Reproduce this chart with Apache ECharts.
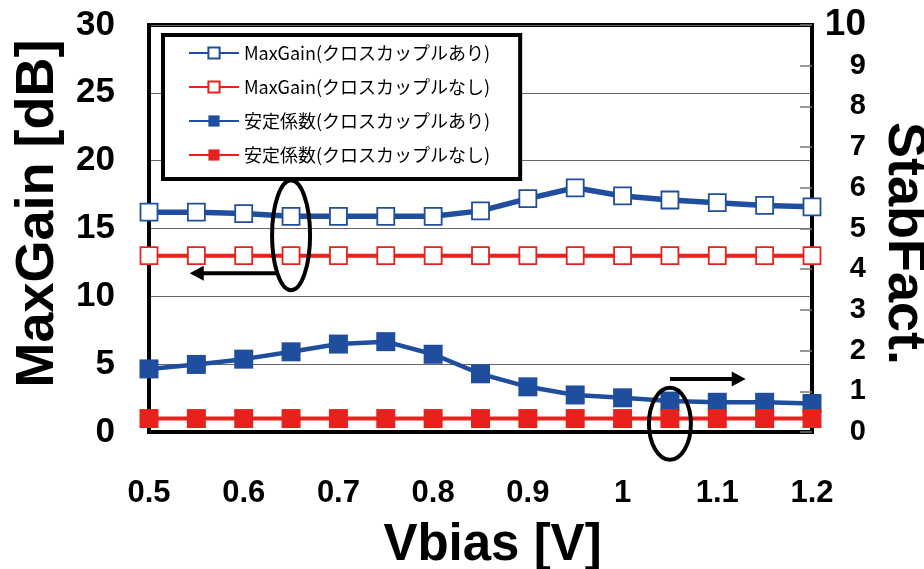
<!DOCTYPE html>
<html>
<head>
<meta charset="utf-8">
<script src="https://cdn.jsdelivr.net/npm/echarts@6/dist/echarts.min.js"></script>
<style>html,body{margin:0;padding:0;background:#fff}#c{width:924px;height:569px}</style>
</head>
<body>
<div id="c"></div>
<script>
// ---- data ----
const vbias = [0.5, 0.55, 0.6, 0.65, 0.7, 0.75, 0.8, 0.85, 0.9, 0.95, 1.0, 1.05, 1.1, 1.15, 1.2];
const maxGainWith    = [16.2, 16.2, 16.1, 15.9, 15.9, 15.9, 15.9, 16.3, 17.2, 18.0, 17.4, 17.1, 16.9, 16.7, 16.6];
const maxGainWithout = [13.0, 13.0, 13.0, 13.0, 13.0, 13.0, 13.0, 13.0, 13.0, 13.0, 13.0, 13.0, 13.0, 13.0, 13.0];
const stabWith       = [1.55, 1.66, 1.79, 1.97, 2.16, 2.22, 1.91, 1.43, 1.11, 0.91, 0.84, 0.76, 0.73, 0.73, 0.70];
const stabWithout    = [0.33, 0.33, 0.33, 0.33, 0.33, 0.33, 0.33, 0.33, 0.33, 0.33, 0.33, 0.33, 0.33, 0.33, 0.33];
const seriesNames = ['MaxGain(クロスカップルあり)', 'MaxGain(クロスカップルなし)', '安定係数(クロスカップルあり)', '安定係数(クロスカップルなし)'];
const xTicks = [0.5, 0.6, 0.7, 0.8, 0.9, 1.0, 1.1, 1.2];
const leftTicks = [0, 5, 10, 15, 20, 25, 30];
const rightTicks = [0, 1, 2, 3, 4, 5, 6, 7, 8, 9, 10];

const BLUE = '#1f4e9e';
const RED = '#e8211c';
const BOLD = '"Liberation Sans", Arial, sans-serif';
const JP = '"Noto Sans CJK JP", "Noto Sans", sans-serif';

function pairs(ys) { return vbias.map((x, i) => [x, ys[i]]); }

const chart = echarts.init(document.getElementById('c'), null, {renderer: 'canvas'});

const option = {
  animation: false,
  backgroundColor: '#fff',
  grid: {left: 149, right: 112, top: 25, bottom: 137, show: true, borderColor: '#000', borderWidth: 4,
         containLabel: false, outerBoundsMode: 'none'},
  legend: {
    data: seriesNames,
    orient: 'vertical',
    left: 163, top: 35,
    padding: [8, 30, 14, 25],
    itemGap: 14,
    itemWidth: 50, itemHeight: 14,
    backgroundColor: '#fff',
    borderColor: '#000', borderWidth: 4,
    textStyle: {fontFamily: JP, fontSize: 18, color: '#000', lineHeight: 20},
    z: 20
  },
  xAxis: {
    type: 'value', min: xTicks[0], max: xTicks[xTicks.length - 1], interval: 0.1,
    axisLine: {show: true, lineStyle: {color: '#000', width: 4}},
    axisTick: {show: false},
    splitLine: {show: false},
    axisLabel: {
      margin: 46, fontFamily: BOLD, fontWeight: 'bold', fontSize: 31, color: '#000',
      formatter: v => String(+v.toFixed(2))
    },
    name: 'Vbias [V]', nameLocation: 'middle', nameGap: 88,
    nameTextStyle: {fontFamily: BOLD, fontWeight: 'bold', fontSize: 51, color: '#000', padding: [0, 0, 0, 24]}
  },
  yAxis: [
    {
      type: 'value', min: leftTicks[0], max: leftTicks[leftTicks.length - 1], interval: 5,
      axisLine: {show: true, lineStyle: {color: '#000', width: 4}},
      axisTick: {show: false},
      splitLine: {show: true, lineStyle: {color: '#666', width: 1.2}},
      axisLabel: {margin: 34, fontFamily: BOLD, fontWeight: 'bold', fontSize: 35, color: '#000'},
      name: 'MaxGain [dB]', nameLocation: 'middle', nameGap: 84,
      nameTextStyle: {fontFamily: BOLD, fontWeight: 'bold', fontSize: 54, color: '#000', padding: [0, 0, 0, 30]}
    },
    {
      type: 'value', min: rightTicks[0], max: rightTicks[rightTicks.length - 1], interval: 1,
      position: 'right',
      axisLine: {show: true, lineStyle: {color: '#000', width: 4}},
      axisTick: {show: true, inside: true, length: 12, lineStyle: {color: '#777', width: 1.5}},
      splitLine: {show: false},
      axisLabel: {
        margin: 54, align: 'right', color: '#000',
        formatter: v => (v === 10 ? '{big|' + v + '}' : '{n|' + v + '}'),
        rich: {
          big: {fontFamily: BOLD, fontWeight: 'bold', fontSize: 37, color: '#000'},
          n: {fontFamily: BOLD, fontWeight: 'bold', fontSize: 29, color: '#000'}
        }
      },
      name: 'StabFact.', nameLocation: 'middle', nameRotate: -90, nameGap: 58,
      nameTextStyle: {fontFamily: BOLD, fontWeight: 'bold', fontSize: 54, color: '#000', padding: [0, 0, 0, 30]}
    }
  ],
  series: [
    {
      name: seriesNames[0], type: 'line', yAxisIndex: 0, data: pairs(maxGainWith),
      symbol: 'rect', symbolSize: 17,
      lineStyle: {color: BLUE, width: 5.5},
      itemStyle: {color: '#fff', borderColor: BLUE, borderWidth: 1.8}
    },
    {
      name: seriesNames[1], type: 'line', yAxisIndex: 0, data: pairs(maxGainWithout),
      symbol: 'rect', symbolSize: 17,
      lineStyle: {color: RED, width: 4},
      itemStyle: {color: '#fff', borderColor: RED, borderWidth: 1.8}
    },
    {
      name: seriesNames[2], type: 'line', yAxisIndex: 1, data: pairs(stabWith),
      symbol: 'rect', symbolSize: 19,
      lineStyle: {color: BLUE, width: 4.5},
      itemStyle: {color: BLUE, borderColor: BLUE, borderWidth: 0}
    },
    {
      name: seriesNames[3], type: 'line', yAxisIndex: 1, data: pairs(stabWithout),
      symbol: 'rect', symbolSize: 19,
      lineStyle: {color: RED, width: 4},
      itemStyle: {color: RED, borderColor: RED, borderWidth: 0}
    }
  ]
};
chart.setOption(option);

// ---- annotations (anchored in data units) ----
const ann = {
  ellipseLeft:  {x: 0.65, y: 14.5, rx: 19, ry: 55},
  arrowLeft:    {y: 11.7, tipX: 0.543},
  ellipseRight: {x: 1.05, y: 0.2, rx: 21, ry: 36},
  arrowRight:   {y: 1.3, tipX: 1.13}
};
function px(x, y, axis) { return chart.convertToPixel({xAxisIndex: 0, yAxisIndex: axis}, [x, y]); }
const e1 = px(ann.ellipseLeft.x, ann.ellipseLeft.y, 0);
const e2 = px(ann.ellipseRight.x, ann.ellipseRight.y, 1);
const a1 = px(ann.arrowLeft.tipX, ann.arrowLeft.y, 0);
const a2 = px(ann.arrowRight.tipX, ann.arrowRight.y, 1);
const head = 14, halfH = 7.5;
function ellipseX(c, r, yy, side) {
  const dy = (yy - c[1]) / r.ry;
  return c[0] + side * r.rx * Math.sqrt(Math.max(0, 1 - dy * dy));
}
const a1start = ellipseX(e1, ann.ellipseLeft, a1[1], -1);
const a2start = ellipseX(e2, ann.ellipseRight, a2[1], 1);
chart.setOption({
  graphic: [
    {type: 'ellipse', z: 30, shape: {cx: e1[0], cy: e1[1], rx: ann.ellipseLeft.rx, ry: ann.ellipseLeft.ry},
     style: {fill: 'none', stroke: '#000', lineWidth: 4}},
    {type: 'ellipse', z: 30, shape: {cx: e2[0], cy: e2[1], rx: ann.ellipseRight.rx, ry: ann.ellipseRight.ry},
     style: {fill: 'none', stroke: '#000', lineWidth: 4}},
    {type: 'line', z: 30, shape: {x1: a1start, y1: a1[1], x2: a1[0] + head - 2, y2: a1[1]},
     style: {stroke: '#000', lineWidth: 4}},
    {type: 'polygon', z: 30, shape: {points: [[a1[0], a1[1]], [a1[0] + head, a1[1] - halfH], [a1[0] + head, a1[1] + halfH]]},
     style: {fill: '#000'}},
    {type: 'line', z: 30, shape: {x1: a2start, y1: a2[1], x2: a2[0] - head + 2, y2: a2[1]},
     style: {stroke: '#000', lineWidth: 4}},
    {type: 'polygon', z: 30, shape: {points: [[a2[0], a2[1]], [a2[0] - head, a2[1] - halfH], [a2[0] - head, a2[1] + halfH]]},
     style: {fill: '#000'}}
  ]
});
</script>
</body>
</html>
